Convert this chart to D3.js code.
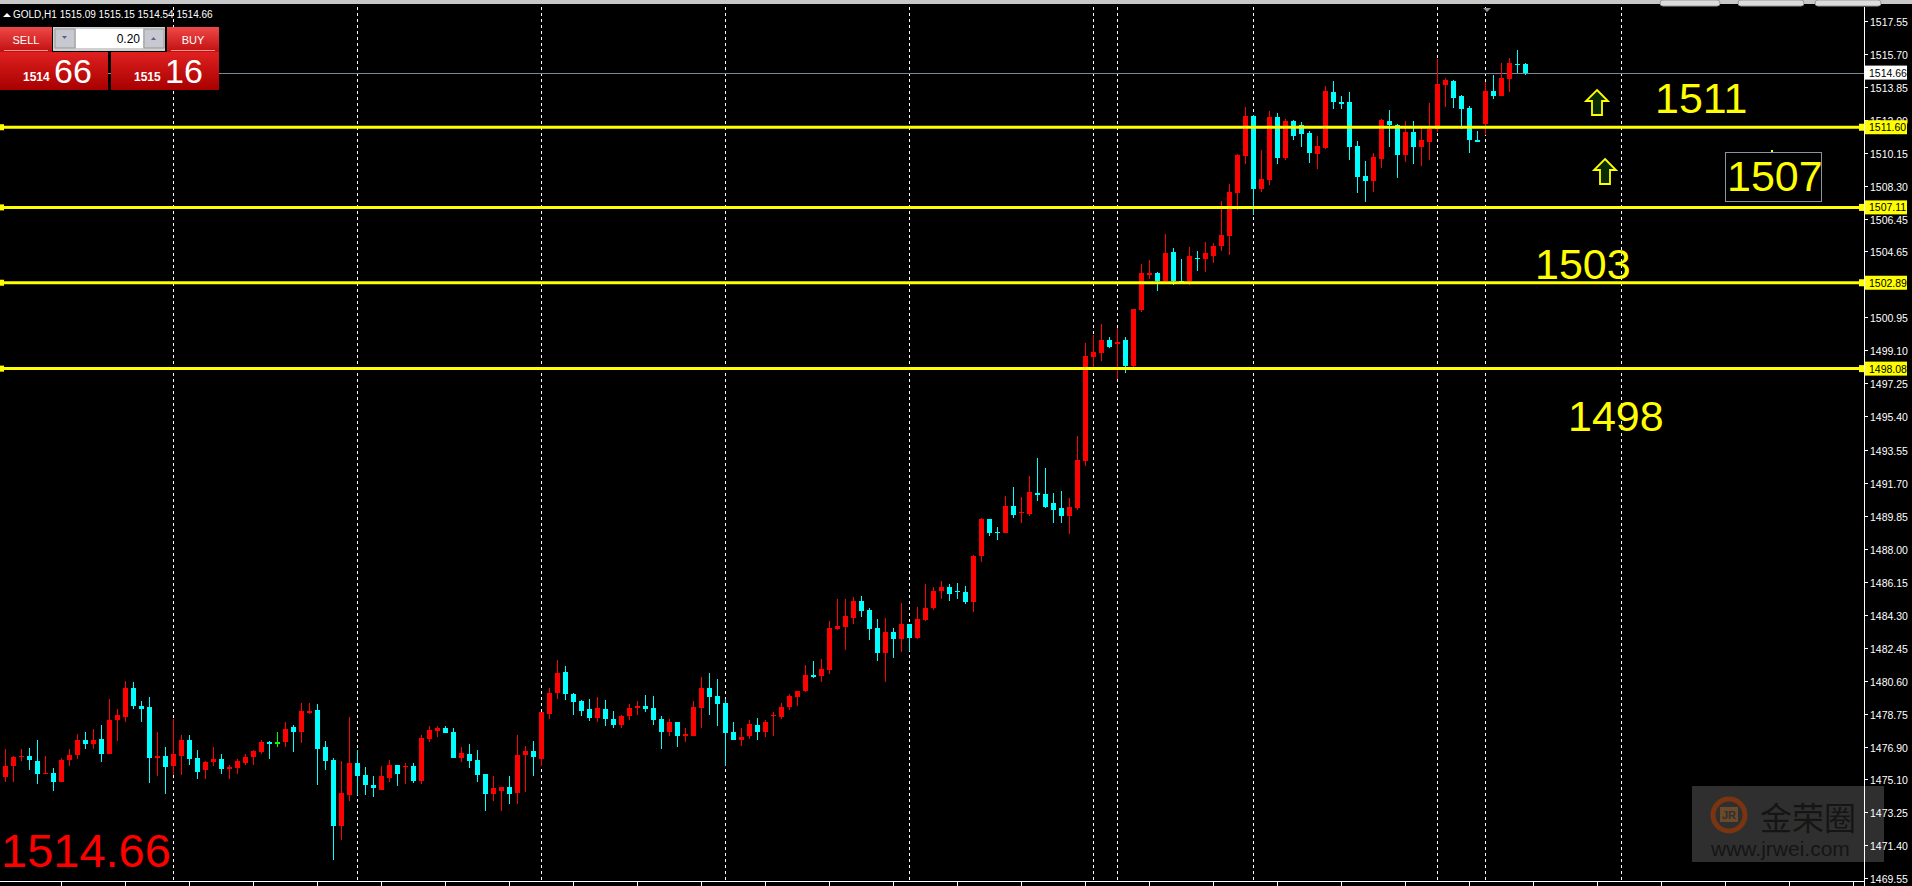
<!DOCTYPE html>
<html>
<head>
<meta charset="utf-8">
<script src="https://cdn.jsdelivr.net/npm/d3@7"></script>
<style>
  body { margin: 0; background: #000; overflow: hidden; }
  svg text { font-family: "Liberation Sans", Arial, sans-serif; }
</style>
</head>
<body>
<svg id="chart" width="1912" height="886"></svg>
<script>
// GOLD H1 candles, index 0 = oldest
var opens = [
1475.2,1475.8,1476.3,1476.4,1476.1,1475.4,1475.45,1474.95,1476.15,1476.45,
1477.3,1477.05,1477.35,1476.5,1478.4,1478.55,1480.2,1479.2,1479.1,1476.25,
1476.4,1475.8,1476.4,1477.3,1476.25,1475.6,1476.05,1476.2,1475.65,1475.7,
1476.0,1476.3,1476.6,1477.15,1477.15,1477.15,1478.0,1477.7,1478.85,1478.95,
1476.9,1476.15,1472.45,1474.2,1476.0,1475.3,1474.75,1474.5,1475.15,1475.9,
1475.8,1475.8,1475.0,1477.35,1477.8,1477.95,1477.75,1476.25,1476.5,1476.15,
1475.4,1474.25,1474.4,1474.65,1474.3,1476.45,1476.65,1476.2,1478.75,1479.9,
1481.1,1479.85,1479.45,1479.0,1478.5,1479.0,1478.45,1478.1,1478.65,1479.05,
1479.2,1479.05,1478.45,1477.75,1478.3,1477.5,1477.5,1479.05,1480.2,1479.75,
1479.35,1477.7,1477.3,1477.5,1478.1,1477.7,1478.6,1478.55,1479.1,1479.7,
1480.0,1480.9,1480.85,1481.2,1483.5,1483.6,1484.1,1485.05,1484.55,1483.55,
1482.15,1483.35,1482.95,1483.75,1483.0,1484.0,1484.7,1485.65,1485.85,1485.65,
1485.55,1485.0,1487.6,1489.65,1488.95,1488.9,1490.38,1490.0,1489.93,1491.1,
1491.05,1490.55,1490.27,1489.82,1490.27,1492.9,1498.73,1498.95,1499.68,1499.45,
1499.68,1498.22,1501.36,1503.36,1503.43,1502.98,1504.6,1503.0,1502.98,1504.28,
1504.22,1504.38,1504.94,1505.5,1507.92,1509.99,1512.23,1508.14,1508.64,1512.17,
1509.88,1511.95,1511.72,1511.28,1510.1,1510.43,1513.57,1513.01,1513.01,1510.55,
1508.87,1508.59,1509.82,1511.95,1511.73,1510.04,1511.33,1510.49,1510.77,1511.5,
1513.96,1514.19,1513.35,1512.68,1510.9,1511.8,1513.63,1513.35,1514.3,1515.15,
1515.13];
var highs = [
1476.8,1476.4,1476.8,1476.85,1477.3,1476.4,1475.7,1476.25,1476.75,1477.6,
1477.7,1477.9,1478.1,1479.6,1479.0,1480.6,1480.5,1479.45,1479.7,1477.75,
1476.9,1478.45,1477.55,1477.55,1476.7,1476.1,1476.9,1476.5,1475.9,1476.2,
1476.5,1476.7,1477.3,1477.25,1477.7,1478.3,1478.1,1479.35,1479.35,1479.3,
1477.25,1476.25,1476.1,1478.55,1476.7,1475.75,1475.25,1475.8,1476.15,1475.9,
1476.0,1476.0,1477.55,1478.05,1478.05,1478.05,1477.95,1476.9,1477.05,1476.7,
1475.4,1475.25,1474.65,1475.25,1477.55,1476.95,1477.25,1478.85,1480.2,1481.75,
1481.4,1479.9,1479.5,1479.55,1479.7,1479.5,1478.9,1478.7,1479.3,1479.45,
1479.8,1479.75,1478.65,1478.45,1478.3,1477.95,1479.45,1480.8,1481.05,1480.7,
1479.6,1478.3,1477.95,1478.4,1478.5,1478.4,1478.85,1479.35,1479.85,1480.05,
1481.5,1481.7,1481.8,1483.95,1485.15,1485.2,1485.3,1485.35,1484.7,1484.05,
1484.1,1483.55,1484.95,1483.8,1484.75,1486.0,1485.85,1486.2,1486.0,1486.05,
1485.9,1487.63,1489.7,1489.65,1489.2,1490.94,1491.44,1490.88,1492.06,1493.07,
1492.51,1491.1,1491.22,1490.83,1494.3,1499.51,1499.96,1500.57,1499.85,1500.35,
1499.85,1501.42,1503.94,1504.16,1503.49,1505.62,1504.83,1504.2,1504.89,1504.66,
1505.17,1505.11,1507.47,1508.42,1510.1,1512.73,1512.28,1510.32,1512.51,1512.4,
1512.06,1512.0,1511.89,1511.39,1511.11,1513.91,1514.19,1513.35,1513.57,1510.83,
1509.71,1510.16,1512.06,1512.56,1511.78,1511.95,1511.95,1511.56,1512.96,1515.42,
1514.34,1514.24,1513.4,1512.77,1511.37,1514.11,1514.52,1515.2,1515.48,1515.92,
1515.2];
var lows = [
1474.9,1474.9,1476.1,1475.6,1474.8,1475.4,1474.4,1474.9,1475.8,1476.2,
1476.8,1476.8,1476.05,1476.5,1477.2,1478.3,1479.0,1478.3,1474.85,1475.25,
1474.25,1475.3,1475.3,1475.9,1475.1,1475.1,1475.8,1475.4,1475.1,1475.4,
1475.9,1475.9,1476.5,1476.2,1476.9,1476.9,1476.6,1477.1,1478.75,1474.75,
1475.6,1470.55,1471.7,1473.85,1474.2,1474.2,1474.1,1474.5,1474.9,1474.7,
1474.8,1474.85,1474.8,1477.15,1477.45,1477.65,1476.25,1476.05,1475.7,1474.9,
1473.3,1473.85,1473.3,1473.7,1473.7,1474.35,1475.25,1475.8,1478.45,1479.6,
1479.5,1478.7,1478.65,1478.35,1478.3,1478.05,1477.95,1477.95,1478.4,1478.7,
1478.85,1478.1,1476.8,1477.5,1476.9,1477.15,1477.5,1477.95,1478.7,1478.05,
1475.8,1477.3,1476.95,1477.35,1477.3,1477.45,1477.5,1478.45,1478.95,1479.2,
1479.95,1480.75,1480.5,1481.0,1483.45,1482.3,1483.8,1484.15,1482.9,1481.7,
1480.55,1481.85,1482.2,1482.25,1482.95,1483.95,1484.55,1485.2,1485.05,1485.15,
1484.9,1484.44,1487.25,1488.7,1488.5,1488.9,1489.7,1489.43,1489.82,1490.66,
1490.27,1489.43,1489.43,1488.81,1490.16,1492.62,1498.11,1498.5,1499.23,1497.5,
1497.83,1498.11,1501.25,1503.1,1502.43,1502.98,1502.76,1502.98,1502.76,1503.54,
1503.49,1503.99,1504.66,1504.44,1506.96,1509.54,1506.68,1507.97,1508.36,1509.54,
1509.76,1510.88,1510.49,1509.6,1509.26,1510.38,1512.62,1512.62,1509.76,1507.92,
1507.41,1507.97,1509.32,1510.5,1508.75,1509.65,1509.54,1509.43,1509.76,1511.31,
1512.75,1512.69,1511.52,1510.17,1510.8,1511.14,1513.16,1513.35,1513.6,1514.62,
1514.52];
var closes = [
1475.8,1476.3,1476.4,1476.15,1475.4,1475.45,1474.95,1476.15,1476.45,1477.3,
1477.05,1477.3,1476.5,1478.4,1478.7,1480.2,1479.2,1479.0,1476.25,1476.4,
1475.75,1476.5,1477.3,1476.2,1475.5,1476.05,1476.2,1475.65,1475.75,1476.1,
1476.3,1476.65,1477.15,1477.12,1477.15,1477.9,1477.7,1478.9,1478.9,1476.8,
1476.1,1472.45,1474.3,1476.0,1475.25,1474.75,1474.6,1475.25,1475.9,1475.35,
1475.85,1475.0,1477.4,1477.85,1477.95,1477.65,1476.25,1476.55,1476.1,1475.3,
1474.25,1474.6,1474.65,1474.25,1476.45,1476.65,1476.3,1478.85,1479.9,1481.05,
1479.85,1479.4,1478.9,1478.5,1479.05,1478.45,1478.1,1478.65,1479.05,1479.2,
1479.0,1478.4,1477.75,1478.3,1477.5,1477.6,1479.1,1480.2,1479.7,1479.3,
1477.65,1477.3,1477.45,1478.15,1477.7,1478.3,1478.7,1479.15,1479.75,1480.05,
1480.9,1480.8,1481.25,1483.55,1483.65,1484.2,1485.05,1484.5,1483.5,1482.15,
1483.35,1482.95,1483.75,1483.0,1484.05,1484.7,1485.65,1485.85,1485.45,1485.55,
1485.0,1487.58,1489.65,1488.87,1488.92,1490.38,1489.88,1490.05,1491.16,1491.02,
1490.32,1490.16,1489.82,1490.32,1492.96,1498.78,1499.0,1499.68,1499.29,1499.57,
1498.22,1501.42,1503.43,1503.42,1502.98,1504.55,1502.98,1502.98,1504.38,1504.26,
1504.55,1504.94,1505.56,1507.97,1510.04,1512.23,1508.14,1508.7,1512.17,1509.88,
1511.95,1511.11,1511.22,1510.16,1510.55,1513.63,1513.01,1513.0,1510.49,1508.81,
1508.59,1509.93,1512.0,1511.7,1510.04,1511.33,1510.49,1510.88,1511.5,1514.02,
1514.24,1513.25,1512.64,1510.9,1510.8,1513.63,1513.35,1514.36,1515.2,1515.13,
1514.66];

var priceTicks = ["1517.55","1515.70","1513.85","1512.00","1510.15","1508.30","1506.45","1504.65",
  "1500.95","1499.10","1497.25","1495.40","1493.55","1491.70","1489.85","1488.00","1486.15",
  "1484.30","1482.45","1480.60","1478.75","1476.90","1475.10","1473.25","1471.40","1469.55"];
var levels = [1511.60, 1507.11, 1502.89, 1498.08];
var levelLabels = ["1511.60", "1507.11", "1502.89", "1498.08"];
var separators = [21, 44, 67, 90, 113, 136, 139, 156, 179, 185, 202]; // bar index of day lines
var lastPrice = 1514.66;
var notes = [
  {text: "1511", x: 1655, y: 113},
  {text: "1507", x: 1727, y: 191},
  {text: "1503", x: 1535, y: 279},
  {text: "1498", x: 1568, y: 431}
];

var svg = d3.select("#chart");
var W = 1912, H = 886, axisX = 1864, plotBottom = 881;

var x = d3.scaleLinear().domain([0, 1]).range([5, 13]);
var y = d3.scaleLinear().domain([1469.55, 1517.55]).range([878, 21]);

svg.append("rect").attr("width", W).attr("height", H).attr("fill", "#000");

// toolbar strip at top
svg.append("rect").attr("x", 0).attr("y", 0).attr("width", W).attr("height", 4).attr("fill", "#c8c8c8");
[[1660, 60], [1738, 66], [1815, 66]].forEach(function(t) {
  svg.append("rect").attr("x", t[0]).attr("y", 0).attr("width", t[1]).attr("height", 6)
    .attr("rx", 3).attr("fill", "#dcdcdc").attr("stroke", "#999");
});

// day separators
separators.forEach(function(i) {
  svg.append("line").attr("x1", x(i) + 0.5).attr("x2", x(i) + 0.5)
    .attr("y1", 7).attr("y2", plotBottom)
    .attr("stroke", "#fff").attr("stroke-dasharray", "3,3");
});

// current price line
svg.append("line").attr("x1", 0).attr("x2", axisX).attr("y1", Math.round(y(lastPrice)) + 0.5)
  .attr("y2", Math.round(y(lastPrice)) + 0.5).attr("stroke", "#778899");

// candles
var data = d3.range(opens.length).map(function(i) {
  return {i: i, o: opens[i], h: highs[i], l: lows[i], c: closes[i]};
});
function col(d) { return d.c > d.o ? "#ff0000" : (d.c < d.o ? "#00ffff" : "#00ff00"); }
var g = svg.append("g").attr("shape-rendering", "crispEdges");
g.selectAll(".wick").data(data).enter().append("line")
  .attr("x1", function(d) { return x(d.i) + 0.5; }).attr("x2", function(d) { return x(d.i) + 0.5; })
  .attr("y1", function(d) { return y(d.h); }).attr("y2", function(d) { return y(d.l); })
  .attr("stroke", col);
g.selectAll(".body").data(data).enter().append("rect")
  .attr("x", function(d) { return x(d.i) - 2; }).attr("width", 5)
  .attr("y", function(d) { return y(Math.max(d.o, d.c)); })
  .attr("height", function(d) { return Math.max(1.5, Math.abs(y(d.o) - y(d.c))); })
  .attr("fill", col);

// support / resistance lines
levels.forEach(function(v, k) {
  var yy = y(v);
  svg.append("line").attr("x1", 0).attr("x2", axisX).attr("y1", yy).attr("y2", yy)
    .attr("stroke", "#ffff00").attr("stroke-width", 3);
  svg.append("rect").attr("x", 0).attr("y", yy - 3).attr("width", 4).attr("height", 6).attr("fill", "#ffff00");
  svg.append("rect").attr("x", axisX - 5).attr("y", yy - 3.5).attr("width", 6).attr("height", 7).attr("fill", "#ffff00");
});

// watermark (under the price scale)
var wm = svg.append("g");
wm.append("rect").attr("x", 1692).attr("y", 786).attr("width", 192).attr("height", 76).attr("fill", "#2f2f2f");
wm.append("circle").attr("cx", 1729).attr("cy", 815).attr("r", 16).attr("fill", "none").attr("stroke", "#7a3410").attr("stroke-width", 5);
wm.append("rect").attr("x", 1720).attr("y", 807).attr("width", 18).attr("height", 15).attr("fill", "#6a4a2a");
wm.append("text").attr("x", 1729).attr("y", 819).attr("text-anchor", "middle").attr("fill", "#2f2f2f").attr("font-size", "11px").attr("font-weight", "bold").text("JR");
wm.append("text").attr("x", 1760).attr("y", 830).attr("fill", "#151515").attr("font-size", "32px")
  .style("font-family", "'Noto Sans CJK SC', sans-serif").text("金荣圈");
wm.append("text").attr("x", 1711).attr("y", 856).attr("fill", "#151515").attr("font-size", "21px").text("www.jrwei.com");

// axes frame
svg.append("line").attr("x1", axisX + 0.5).attr("x2", axisX + 0.5).attr("y1", 7).attr("y2", H).attr("stroke", "#fff");
svg.append("line").attr("x1", 0).attr("x2", axisX).attr("y1", plotBottom + 0.5).attr("y2", plotBottom + 0.5).attr("stroke", "#fff");
d3.range(0, 29).forEach(function(k) {
  var tx = 61 + 64 * k;
  if (tx < axisX) svg.append("line").attr("x1", tx + 0.5).attr("x2", tx + 0.5).attr("y1", plotBottom).attr("y2", plotBottom + 5).attr("stroke", "#fff");
});

// right price scale
var ax = svg.append("g");
priceTicks.forEach(function(t) {
  var yy = Math.round(y(+t)) + 0.5;
  ax.append("line").attr("x1", axisX).attr("x2", axisX + 4).attr("y1", yy).attr("y2", yy).attr("stroke", "#fff");
  ax.append("text").attr("x", axisX + 6).attr("y", yy + 4).attr("fill", "#fff")
    .attr("font-size", "10.5px").text(t);
});
function priceBox(v, label, bg) {
  var yy = y(v);
  svg.append("rect").attr("x", axisX + 1).attr("y", yy - 7).attr("width", 42).attr("height", 14).attr("fill", bg);
  svg.append("text").attr("x", axisX + 5).attr("y", yy + 4).attr("fill", "#000")
    .attr("font-size", "10.5px").text(label);
}
levels.forEach(function(v, k) { priceBox(v, levelLabels[k], "#ffff00"); });
priceBox(lastPrice, lastPrice.toFixed(2), "#fff");

// yellow note texts
notes.forEach(function(n) {
  svg.append("text").attr("x", n.x).attr("y", n.y).attr("fill", "#ffff00")
    .attr("font-size", "43px").text(n.text);
});
svg.append("rect").attr("x", 1725.5).attr("y", 152.5).attr("width", 96).attr("height", 49)
  .attr("fill", "none").attr("stroke", "#8a94a0");
svg.append("rect").attr("x", 1771).attr("y", 150).attr("width", 2).attr("height", 2).attr("fill", "#ffff00");

// up arrows
function arrow(cx, top) {
  var p = "M" + cx + "," + top + " l11,11 h-6 v14 h-10 v-14 h-6 z";
  svg.append("path").attr("d", p).attr("fill", "#0a2a00").attr("stroke", "#ffff00").attr("stroke-width", 1.8);
}
arrow(1597, 90);
arrow(1605, 159);

// shift marker
svg.append("path").attr("d", "M1483,8 h8 l-4,4 z").attr("fill", "#8a94a0");

// header
svg.append("path").attr("d", "M3,17 l4,-4 l4,4 z").attr("fill", "#fff");
svg.append("text").attr("x", 13).attr("y", 18).attr("fill", "#fff").attr("font-size", "10px")
  .text("GOLD,H1  1515.09 1515.15 1514.54 1514.66");

// trade panel
var defs = svg.append("defs");
var gr = defs.append("linearGradient").attr("id", "redg").attr("x1", 0).attr("x2", 0).attr("y1", 0).attr("y2", 1);
gr.append("stop").attr("offset", "0%").attr("stop-color", "#f04848");
gr.append("stop").attr("offset", "100%").attr("stop-color", "#c01010");
var gr2 = defs.append("linearGradient").attr("id", "redg2").attr("x1", 0).attr("x2", 0).attr("y1", 0).attr("y2", 1);
gr2.append("stop").attr("offset", "0%").attr("stop-color", "#e02020");
gr2.append("stop").attr("offset", "100%").attr("stop-color", "#a80000");

svg.append("rect").attr("x", 0).attr("y", 27).attr("width", 52).attr("height", 25).attr("fill", "url(#redg)");
svg.append("rect").attr("x", 167).attr("y", 27).attr("width", 52).attr("height", 25).attr("fill", "url(#redg)");
svg.append("line").attr("x1", 4).attr("x2", 48).attr("y1", 50.5).attr("y2", 50.5).attr("stroke", "#ff9090");
svg.append("line").attr("x1", 171).attr("x2", 215).attr("y1", 50.5).attr("y2", 50.5).attr("stroke", "#ff9090");
svg.append("text").attr("x", 26).attr("y", 44).attr("text-anchor", "middle").attr("fill", "#fff").attr("font-size", "11px").text("SELL");
svg.append("text").attr("x", 193).attr("y", 44).attr("text-anchor", "middle").attr("fill", "#fff").attr("font-size", "11px").text("BUY");
svg.append("rect").attr("x", 53).attr("y", 27).attr("width", 112).attr("height", 24).attr("fill", "#d0d0d0");
svg.append("rect").attr("x", 55).attr("y", 29).attr("width", 20).attr("height", 19).attr("fill", "#c8c8d0").attr("stroke", "#999");
svg.append("rect").attr("x", 76).attr("y", 29).attr("width", 67).attr("height", 19).attr("fill", "#fff");
svg.append("rect").attr("x", 144).attr("y", 29).attr("width", 20).attr("height", 19).attr("fill", "#c8c8d0").attr("stroke", "#999");
svg.append("path").attr("d", "M62,36 h5 l-2.5,3 z").attr("fill", "#5060a0");
svg.append("path").attr("d", "M151,40 h5 l-2.5,-3 z").attr("fill", "#5060a0");
svg.append("text").attr("x", 140).attr("y", 43).attr("text-anchor", "end").attr("fill", "#000").attr("font-size", "12px").text("0.20");
[[0, "1514", "66"], [111, "1515", "16"]].forEach(function(b) {
  svg.append("rect").attr("x", b[0]).attr("y", 52).attr("width", 108).attr("height", 38).attr("fill", "url(#redg2)");
  svg.append("text").attr("x", b[0] + 23).attr("y", 81).attr("fill", "#fff").attr("font-size", "12px")
    .attr("font-weight", "bold").text(b[1]);
  svg.append("text").attr("x", b[0] + 54).attr("y", 83).attr("fill", "#fff").attr("font-size", "34px").text(b[2]);
});

// big last price
svg.append("text").attr("x", 1).attr("y", 867).attr("fill", "#ff0000").attr("font-size", "47px").text("1514.66");
</script>
</body>
</html>
